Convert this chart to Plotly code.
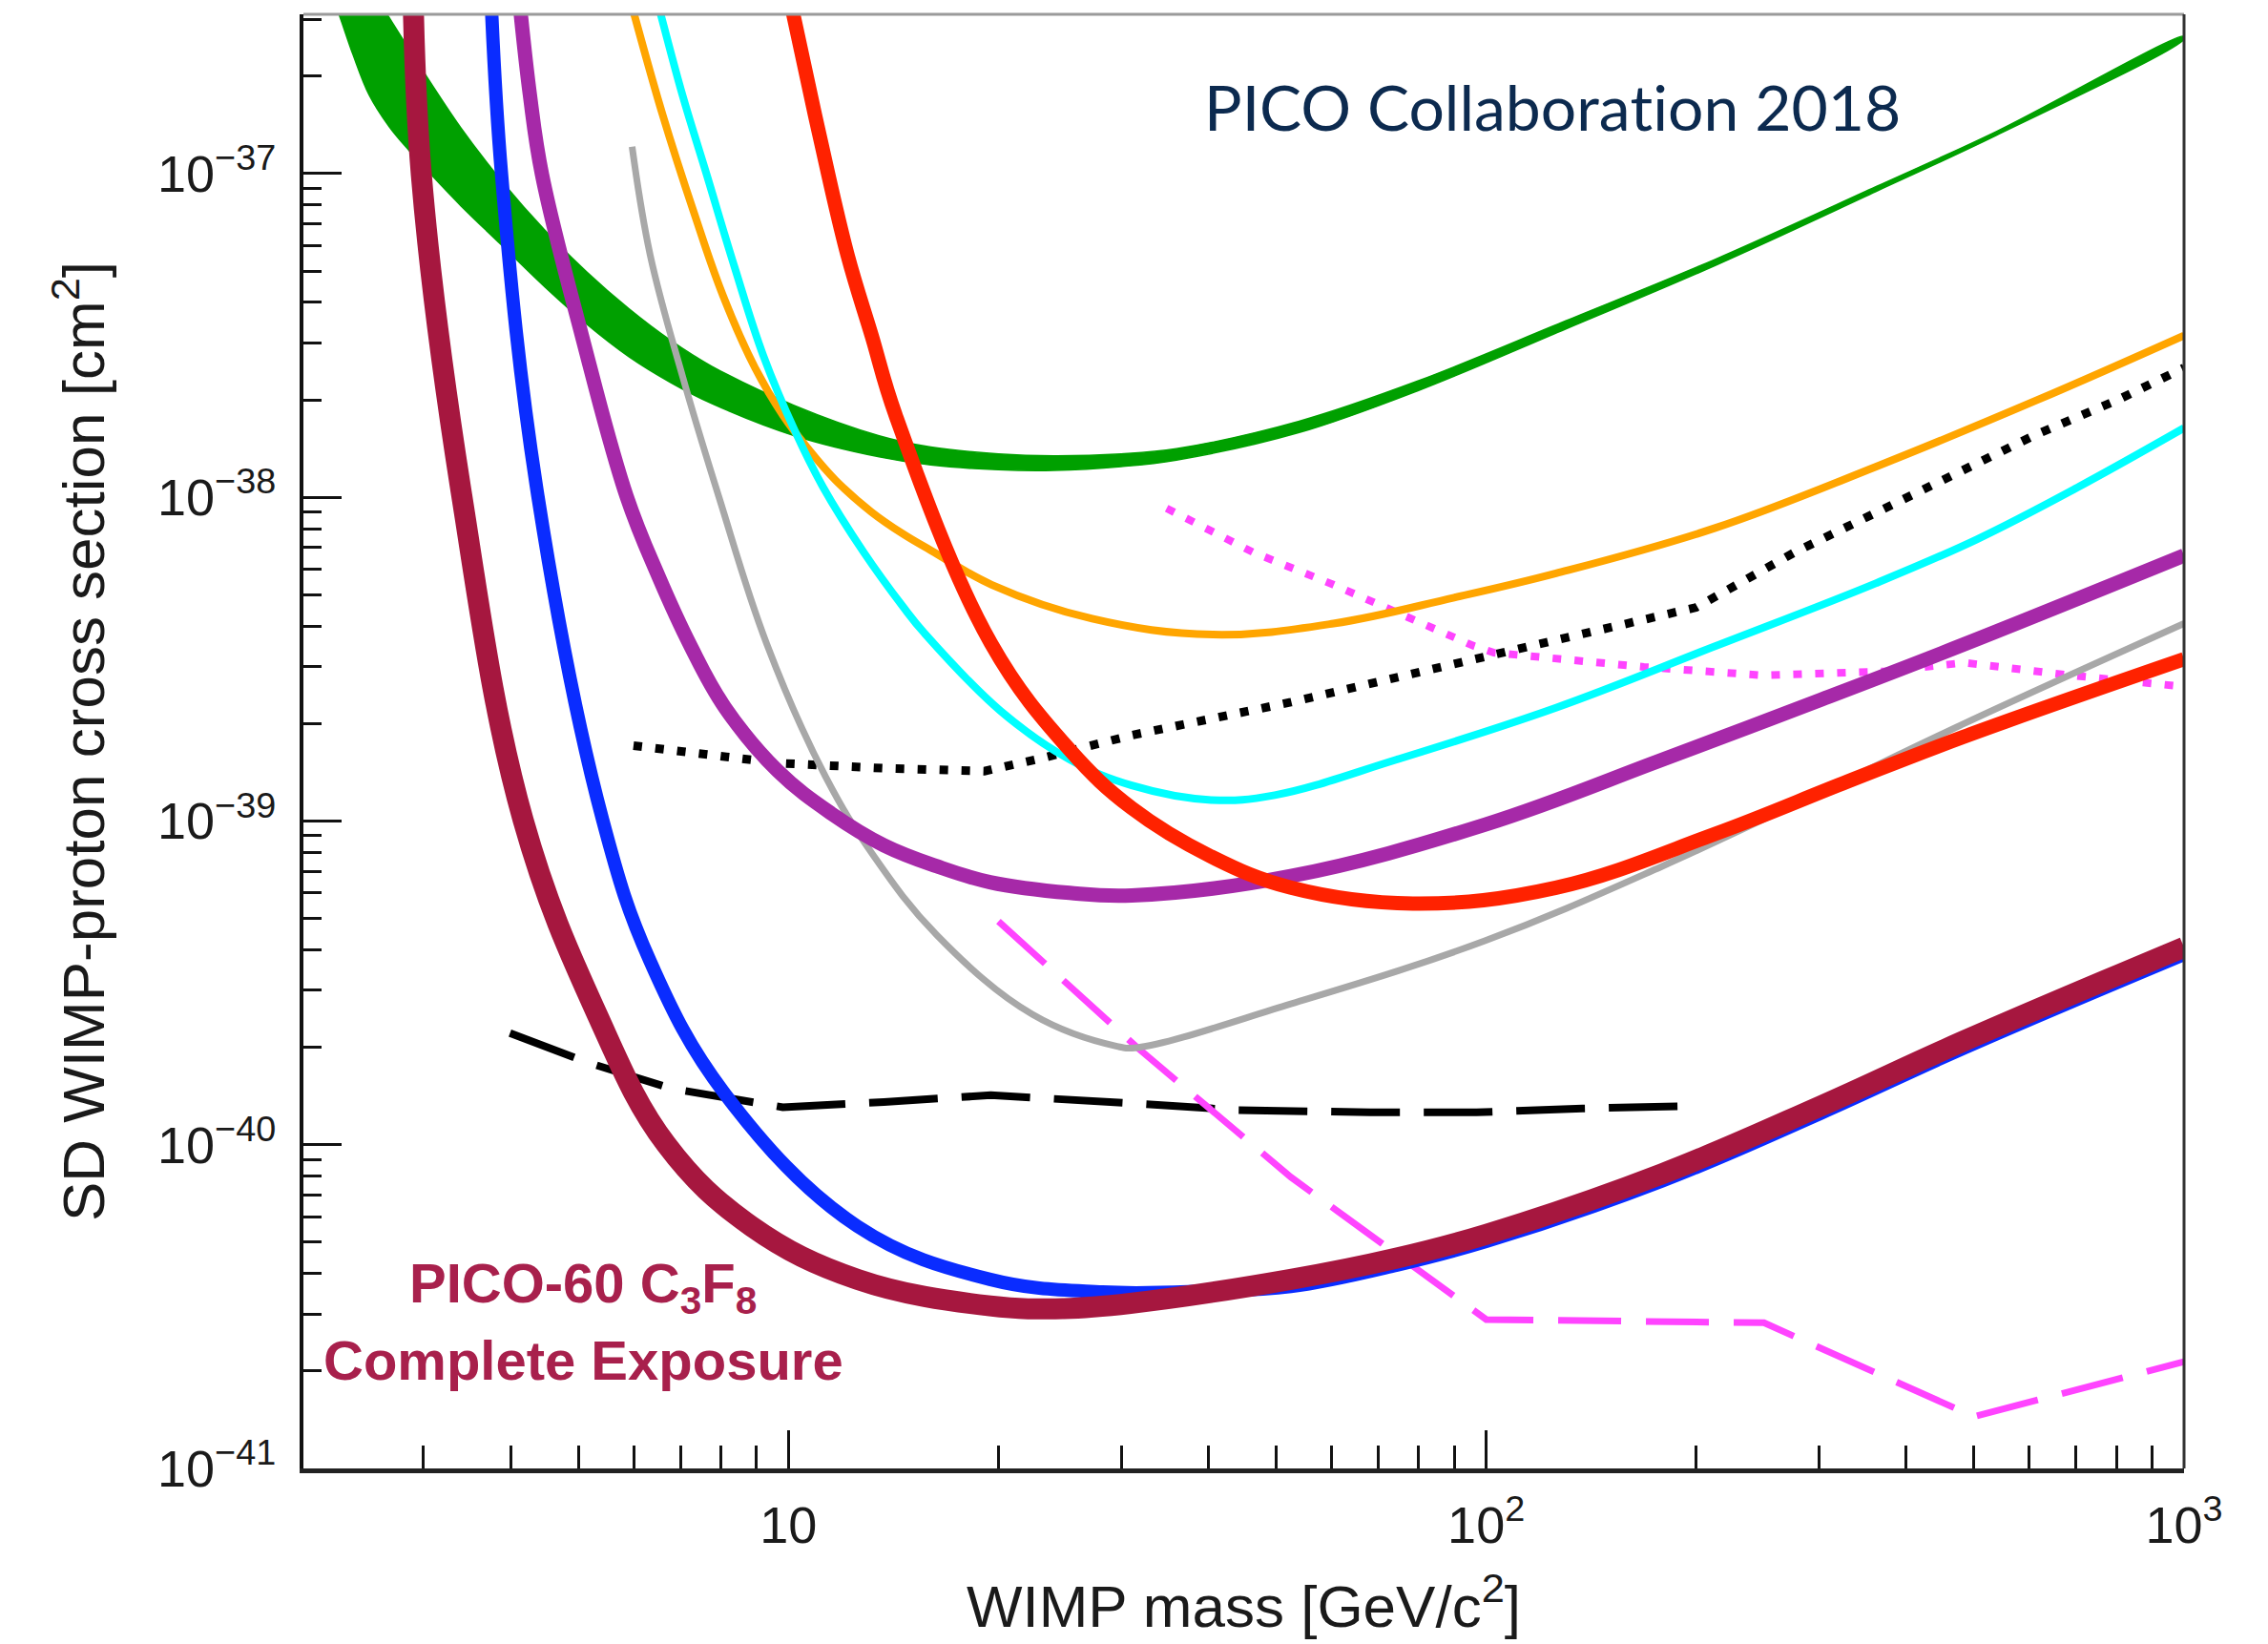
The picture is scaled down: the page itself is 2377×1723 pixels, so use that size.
import plotly.graph_objects as go

# ------------------------------------------------------------------------------------------
# Spin-dependent WIMP-proton limits.  Every curve is stored as log10(mass / GeV c^-2) and
# log10(cross section / cm^2); the values are converted back to linear units for the log axes.
# ------------------------------------------------------------------------------------------

# filled band (upper and lower edge)
band_upper_lgm = [0.342, 0.380, 0.425, 0.471, 0.531, 0.591, 0.651, 0.711, 0.771, 0.831, 0.890, 1.009,
                  1.130, 1.204, 1.301, 1.380, 1.477, 1.556, 1.732, 1.903, 2.114, 2.328, 2.559, 2.731, 3.0]
band_upper_lgs = [-36.22, -36.35, -36.508, -36.665, -36.86, -37.028, -37.175, -37.304, -37.417, -37.515,
                  -37.595, -37.717, -37.81, -37.845, -37.866, -37.872, -37.866, -37.85, -37.765, -37.64,
                  -37.455, -37.265, -37.04, -36.87, -36.576]
band_lower_lgm = [0.342, 0.356, 0.376, 0.399, 0.428, 0.457, 0.491, 0.531, 0.591, 0.651, 0.711, 0.771,
                  0.831, 0.890, 1.009, 1.130, 1.204, 1.301, 1.380, 1.477, 1.556, 1.732, 1.903, 2.114,
                  2.328, 2.559, 2.731, 3.0]
band_lower_lgs = [-36.43, -36.508, -36.632, -36.756, -36.855, -36.93, -37.01, -37.10, -37.225, -37.35,
                  -37.465, -37.565, -37.645, -37.71, -37.81, -37.875, -37.90, -37.915, -37.917, -37.905,
                  -37.885, -37.80, -37.67, -37.48, -37.284, -37.055, -36.882, -36.585]

orange_lgm = [0.768, 0.779, 0.8197, 0.8658, 0.9061, 0.9522, 0.9926, 1.0272, 1.0675, 1.1194, 1.1655, 1.205,
              1.2912, 1.4353, 1.6082, 1.781, 1.954, 2.10, 2.328, 2.559, 2.789, 3.0]
orange_lgs = [-36.42, -36.508, -36.818, -37.128, -37.376, -37.60, -37.748, -37.847, -37.947, -38.046,
              -38.115, -38.165, -38.27, -38.375, -38.424, -38.39, -38.31, -38.235, -38.095, -37.905,
              -37.70, -37.50]

cyan_lgm = [0.806, 0.817, 0.848, 0.883, 0.923, 0.964, 1.010, 1.050, 1.108, 1.165, 1.195, 1.304, 1.403,
            1.492, 1.606, 1.697, 1.872, 2.10, 2.328, 2.559, 2.703, 2.847, 3.0]
cyan_lgs = [-36.42, -36.508, -36.756, -37.004, -37.29, -37.562, -37.798, -37.97, -38.17, -38.34, -38.42,
            -38.66, -38.81, -38.89, -38.935, -38.92, -38.81, -38.65, -38.46, -38.265, -38.13, -37.97,
            -37.786]

gray_lgm = [0.776, 0.802, 0.848, 0.900, 0.969, 1.053, 1.122, 1.213, 1.350, 1.471, 1.500, 1.720, 1.998,
            2.252, 2.480, 2.684, 3.0]
gray_lgs = [-36.917, -37.252, -37.624, -37.996, -38.453, -38.862, -39.107, -39.353, -39.598, -39.696,
            -39.70, -39.565, -39.37, -39.14, -38.91, -38.70, -38.39]

purple_lgm = [0.611, 0.6295, 0.647, 0.704, 0.768, 0.814, 0.860, 0.909, 0.985, 1.061, 1.137, 1.213, 1.289,
              1.403, 1.492, 1.720, 2.0, 2.253, 2.480, 2.684, 3.0]
purple_lgs = [-36.39, -36.756, -37.004, -37.50, -37.996, -38.245, -38.46, -38.649, -38.846, -38.976,
              -39.075, -39.14, -39.189, -39.222, -39.23, -39.17, -39.01, -38.81, -38.625, -38.455, -38.18]

red_lgm = [0.998, 1.007, 1.0444, 1.0848, 1.1193, 1.1539, 1.290, 1.403, 1.492, 1.606, 1.720, 1.895, 2.10,
           2.328, 2.518, 2.684, 3.0]
red_lgs = [-36.42, -36.508, -36.88, -37.252, -37.50, -37.748, -38.45, -38.78, -38.96, -39.11, -39.206,
           -39.255, -39.206, -39.04, -38.878, -38.74, -38.50]

blue_lgm = [0.571, 0.589, 0.641, 0.734, 0.802, 0.909, 1.099, 1.289, 1.45, 1.60, 1.72, 1.872, 2.0, 2.252,
            2.48, 2.684, 3.0]
blue_lgs = [-36.3, -37.004, -37.996, -38.998, -39.434, -39.843, -40.252, -40.416, -40.455, -40.452,
            -40.438, -40.372, -40.299, -40.112, -39.902, -39.702, -39.412]

pico_lgm = [0.461, 0.474, 0.532, 0.620, 0.726, 0.825, 0.947, 1.099, 1.289, 1.395, 1.49, 1.72, 1.872, 2.0,
            2.252, 2.48, 2.684, 3.0]
pico_lgs = [-36.3, -37.004, -37.996, -38.998, -39.598, -39.999, -40.252, -40.416, -40.498, -40.506,
            -40.49, -40.416, -40.35, -40.277, -40.09, -39.88, -39.68, -39.39]

black_dotted_lgm = [0.778, 0.985, 1.137, 1.281, 1.365, 1.492, 1.72, 2.0, 2.212, 2.301, 2.442, 2.559, 2.674,
                    2.789, 2.904, 3.0]
black_dotted_lgs = [-38.767, -38.821, -38.837, -38.846, -38.805, -38.735, -38.633, -38.49, -38.38, -38.34,
                    -38.17, -38.046, -37.922, -37.805, -37.70, -37.60]

black_dashed_lgm = [0.601, 0.711, 0.833, 0.992, 1.137, 1.290, 1.492, 1.644, 1.834, 1.986, 2.138, 2.299]
black_dashed_lgs = [-39.655, -39.745, -39.827, -39.884, -39.868, -39.847, -39.872, -39.893, -39.90, -39.90,
                    -39.888, -39.88]

magenta_dotted_lgm = [1.542, 1.666, 1.781, 1.896, 1.983, 2.011, 2.226, 2.395, 2.571, 2.685, 2.838, 3.0]
magenta_dotted_lgs = [-38.034, -38.17, -38.27, -38.38, -38.46, -38.48, -38.524, -38.55, -38.538, -38.511,
                      -38.55, -38.585]

magenta_dashed_lgm = [1.301, 1.50, 1.72, 2.0, 2.398, 2.699, 3.0]
magenta_dashed_lgs = [-39.31, -39.70, -40.10, -40.54, -40.55, -40.84, -40.67]

# axis ticks
x_major = [10, 100, 1000]
x_major_text = ["10", "10<sup>2</sup>", "10<sup>3</sup>"]
x_minor = [m * d for d in (1, 10, 100) for m in range(2, 10)]
y_major = [1e-41, 1e-40, 1e-39, 1e-38, 1e-37]
y_major_text = ["10<sup>\u221241</sup>", "10<sup>\u221240</sup>", "10<sup>\u221239</sup>",
                "10<sup>\u221238</sup>", "10<sup>\u221237</sup>"]
y_minor = [m * 10.0 ** e for e in (-41, -40, -39, -38, -37) for m in range(2, 10)]


def lin(values):
    return [10.0 ** v for v in values]


fig = go.Figure()

# green band as a closed polygon (upper edge left->right, lower edge right->left)
fig.add_trace(go.Scatter(
    x=lin(band_upper_lgm) + lin(band_lower_lgm)[::-1],
    y=lin(band_upper_lgs) + lin(band_lower_lgs)[::-1],
    mode="lines", fill="toself", fillcolor="#00a000",
    line=dict(color="#00a000", width=1.5, shape="spline", smoothing=1.0),
    hoverinfo="skip", showlegend=False))


def curve(lgm, lgs, color, width, dash="solid", shape="spline"):
    line = dict(color=color, width=width, dash=dash, shape=shape)
    if shape == "spline":
        line["smoothing"] = 1.1
    fig.add_trace(go.Scatter(x=lin(lgm), y=lin(lgs), mode="lines", line=line, showlegend=False))


curve(black_dashed_lgm, black_dashed_lgs, "#000000", 8, dash="72px,25px", shape="linear")
curve(black_dotted_lgm, black_dotted_lgs, "#000000", 9, dash="9px,14px", shape="linear")
curve(magenta_dotted_lgm, magenta_dotted_lgs, "#ff44ff", 8, dash="9px,14px", shape="linear")
curve(magenta_dashed_lgm, magenta_dashed_lgs, "#ff44ff", 7, dash="66px,26px", shape="linear")
curve(orange_lgm, orange_lgs, "#ffa500", 8)
curve(cyan_lgm, cyan_lgs, "#00ffff", 8)
curve(gray_lgm, gray_lgs, "#a8a8a8", 7)
curve(purple_lgm, purple_lgs, "#a629a8", 15)
curve(red_lgm, red_lgs, "#ff2200", 15)
curve(blue_lgm, blue_lgs, "#0a2cff", 14)
curve(pico_lgm, pico_lgs, "#a6173f", 22)

tick_font = dict(family="Liberation Sans, Arial, sans-serif", size=54, color="#1a1a1a")
title_font = dict(family="Liberation Sans, Arial, sans-serif", size=62, color="#1a1a1a")

fig.update_xaxes(
    type="log", range=[0.305, 3.0],
    showline=True, linecolor="#222222", linewidth=5,
    ticks="inside", ticklen=40, tickwidth=3, tickcolor="#111111",
    tickmode="array", tickvals=x_major, ticktext=x_major_text,
    tickfont=tick_font, ticklabelstandoff=8,
    minor=dict(tickmode="array", tickvals=x_minor, ticks="inside", ticklen=24,
               tickwidth=3, tickcolor="#111111", showgrid=False),
    showgrid=False, zeroline=False,
    title=dict(text="WIMP mass [GeV/c<sup>2</sup>]", font=title_font, standoff=36))

fig.update_yaxes(
    type="log", range=[-41.0, -36.508],
    showline=True, linecolor="#111111", linewidth=4,
    ticks="inside", ticklen=40, tickwidth=3, tickcolor="#111111",
    tickmode="array", tickvals=y_major, ticktext=y_major_text,
    tickfont=tick_font, ticklabelstandoff=14,
    minor=dict(tickmode="array", tickvals=y_minor, ticks="inside", ticklen=19,
               tickwidth=3, tickcolor="#111111", showgrid=False),
    showgrid=False, zeroline=False,
    title=dict(text="SD WIMP-proton cross section [cm<sup>2</sup>]", font=title_font, standoff=36))

# top and right frame edges
fig.add_shape(type="line", xref="paper", yref="paper", x0=0, x1=1, y0=1, y1=1,
              line=dict(color="#9a9a9a", width=3), layer="above")
fig.add_shape(type="line", xref="paper", yref="paper", x0=1, x1=1, y0=0, y1=1,
              line=dict(color="#333333", width=3), layer="above")

fig.add_annotation(xref="paper", yref="paper", x=0.664, y=0.937, xanchor="center", yanchor="middle",
                   text="PICO Collabora<span style='font-family:Lato'>t</span>\u200cion 2018",
                   showarrow=False,
                   font=dict(family="Lato, Open Sans, sans-serif", size=66, color="#0c2a4f"))
fig.add_annotation(xref="paper", yref="paper", x=0.1487, y=0.125, xanchor="center", yanchor="middle",
                   text="<b>PICO-60 C<sub>3</sub>F<sub>8</sub></b>", showarrow=False,
                   font=dict(family="Liberation Sans, Arial, sans-serif", size=58, color="#a8204c"))
fig.add_annotation(xref="paper", yref="paper", x=0.1487, y=0.0748, xanchor="center", yanchor="middle",
                   text="<b>Complete Exposure</b>", showarrow=False,
                   font=dict(family="Liberation Sans, Arial, sans-serif", size=58, color="#a8204c"))

fig.update_layout(
    width=2377, height=1723, autosize=False,
    margin=dict(l=318, r=88, t=15, b=184),
    paper_bgcolor="white", plot_bgcolor="white",
    showlegend=False)

fig.write_html("out.html")
